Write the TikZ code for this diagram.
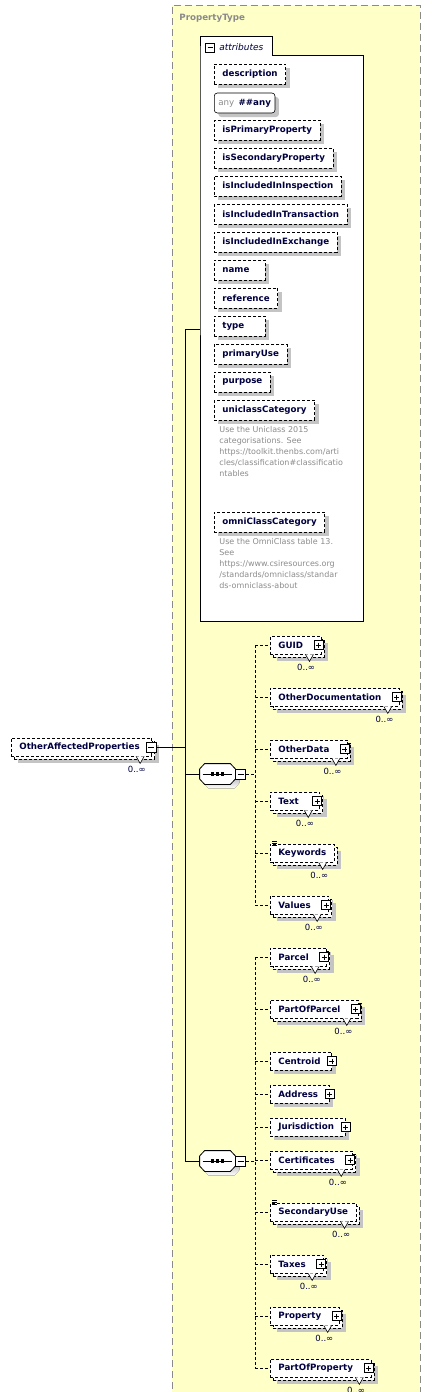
\documentclass[tikz,border=0pt]{standalone}
\usepackage{fontspec}
\setmainfont{DejaVu Sans}
\usetikzlibrary{positioning}
\definecolor{ink}{HTML}{000040}
\definecolor{shade}{HTML}{C4C4C4}
\definecolor{paper}{HTML}{FFFFC8}
\definecolor{framegray}{HTML}{8A8A8A}
\definecolor{notegray}{HTML}{8C8C8C}
\newcommand\gap[1][10pt]{\hbox to #1{}}

\begin{document}
\begin{tikzpicture}[x=1pt,y=-1pt,line width=0.8pt,node distance=8pt]
 \tikzstyle{attr}=[draw,densely dashed,fill=white,text=ink,font=\bfseries\fontsize{8.7}{10}\selectfont,
   inner xsep=8pt,inner ysep=0pt,minimum height=20pt,anchor=west,
   preaction={draw=none,fill=shade,transform canvas={shift={(4pt,-4pt)}}}]
 \tikzstyle{elem}=[attr,minimum height=18pt]
 \tikzstyle{multi}=[elem,
   preaction={draw=none,fill=shade,transform canvas={shift={(7pt,-7pt)}}},
   preaction={draw,densely dashed,fill=white,transform canvas={shift={(3pt,-3pt)}}}]
 \tikzstyle{anyattr}=[attr,solid,rounded corners=3pt,inner xsep=4pt,line width=0.6pt]
 \tikzstyle{pbox}=[draw,solid,fill=white,minimum size=9pt,inner sep=0pt,line width=0.6pt,
   path picture={\draw[solid,line width=0.6pt] ([xshift=2pt]path picture bounding box.west) -- ([xshift=-2pt]path picture bounding box.east)
     ([yshift=-2pt]path picture bounding box.north) -- ([yshift=2pt]path picture bounding box.south);}]
 \tikzstyle{mbox}=[draw,solid,fill=white,minimum size=10pt,inner sep=0pt,line width=0.6pt,
   path picture={\draw[solid,line width=0.6pt] ([xshift=2pt]path picture bounding box.west) -- ([xshift=-2pt]path picture bounding box.east);}]
 \tikzstyle{seqbox}=[minimum width=35pt,minimum height=20pt,inner sep=0pt]
 \tikzstyle{note}=[text=notegray,font=\fontsize{8}{11}\selectfont,align=left,inner sep=0pt,anchor=north west]
 \tikzstyle{mult}=[text=ink,font=\fontsize{8.5}{10}\selectfont,inner sep=0pt]

 \useasboundingbox (0,0) rectangle (431,1392);

 % complex type
 \fill[paper] (172,5) rectangle (420,1400);
 \draw[framegray,line width=1pt,dash pattern=on 7pt off 4pt] (172,1400) -- (172,5) -- (420,5) -- (420,1400);
 \node[text=framegray,font=\bfseries\fontsize{8.7}{10}\selectfont,anchor=west,inner sep=0pt] (ptype) at (179,18) {PropertyType};

 % attributes
 \draw[line width=1pt,fill=white] (200,55) -- (200,36) -- (272,36) -- (272,55) -- (363,55) -- (363,621) -- (200,621) -- cycle;
 \node[mbox,minimum size=9pt] (xatt) at (210,47.5) {};
 \node[anchor=west,inner sep=0pt,text=ink,font=\itshape\fontsize{9}{10}\selectfont] (attlbl) at (219,47) {attributes};

 \node[attr] (a1) at (214,74) {description};
 \node[anyattr] (a2) at (214,103) {\textcolor{notegray}{\mdseries any}\enspace\#\#any};
 \node[attr] (a3) at (214,130) {isPrimaryProperty};
 \node[attr] (a4) at (214,158) {isSecondaryProperty};
 \node[attr] (a5) at (214,186) {isIncludedInInspection};
 \node[attr] (a6) at (214,214) {isIncludedInTransaction};
 \node[attr] (a7) at (214,242) {isIncludedInExchange};
 \node[attr] (a8) at (214,270) {name\gap[8pt]};
 \node[attr] (a9) at (214,298) {reference};
 \node[attr] (a10) at (214,326) {type\gap[13pt]};
 \node[attr] (a11) at (214,354) {primaryUse};
 \node[attr] (a12) at (214,382) {purpose};
 \node[attr] (a13) at (214,410) {uniclassCategory};
 \node[note,below right=6pt and 5pt of a13.south west] (n13)
   {Use the Uniclass 2015\\categorisations. See\\https://toolkit.thenbs.com/arti\\cles/classification\#classificatio\\ntables};
 \node[attr] (a14) at (214,522) {omniClassCategory};
 \node[note,below right=6pt and 5pt of a14.south west] (n14)
   {Use the OmniClass table 13.\\See\\https://www.csiresources.org\\/standards/omniclass/standar\\ds-omniclass-about};

 % element and compositors
 \node[multi] (OAP) at (11,747) {OtherAffectedProperties\gap[4pt]};
 \node[mbox] (xOAP) at ([xshift=-1pt]OAP.east) {};
 \node[seqbox] (S1) at (217.5,774) {};
 \node[seqbox] (S2) at (217.5,1161) {};
 \foreach \s in {S1,S2}{
   \fill[shade] ([shift={(4,-1)}]\s.west) -- ([shift={(9,4)}]\s.north west) -- ([shift={(-1,4)}]\s.north east)
     -- ([shift={(4,-1)}]\s.east) -- ([shift={(4,9)}]\s.east) -- ([shift={(-1,4)}]\s.south east)
     -- ([shift={(9,4)}]\s.south west) -- ([shift={(4,9)}]\s.west) -- cycle;
   \draw[fill=white] ([yshift=5pt]\s.west) -- ([xshift=5pt]\s.north west) -- ([xshift=-5pt]\s.north east)
     -- ([yshift=5pt]\s.east) -- ([yshift=-5pt]\s.east) -- ([xshift=-5pt]\s.south east)
     -- ([xshift=5pt]\s.south west) -- ([yshift=-5pt]\s.west) -- cycle;
   \draw ([xshift=3pt]\s.west) -- ([xshift=-3pt]\s.east);
   \foreach \d in {-5,0,5} \fill ([xshift=\d pt]\s.center) +(-1.6,-1.6) rectangle +(1.6,1.6);
 }
 \node[mbox,right=0pt of S1] (xS1) {};
 \node[mbox,right=0pt of S2] (xS2) {};

 % children
 \node[multi] (G) at (270,645) {GUID\gap};
 \node[multi] (OD) at (270,697) {OtherDocumentation\gap};
 \node[multi] (ODa) at (270,749) {OtherData\gap};
 \node[multi] (T) at (270,801) {Text\gap[13pt]};
 \node[multi] (K) at (270,853) {Keywords};
 \node[multi] (V) at (270,905) {Values\gap};
 \node[multi] (P) at (270,957) {Parcel\gap};
 \node[multi] (PP) at (270,1009) {PartOfParcel\gap};
 \node[elem] (C) at (270,1061) {Centroid\gap[3pt]};
 \node[elem] (Ad) at (270,1094) {Address\gap[3pt]};
 \node[elem] (J) at (270,1127) {Jurisdiction\gap[3pt]};
 \node[multi] (Ce) at (270,1160) {Certificates\gap};
 \node[multi] (SU) at (270,1212) {SecondaryUse};
 \node[multi] (Tx) at (270,1264) {Taxes\gap};
 \node[multi] (Pr) at (270,1316) {Property\gap};
 \node[multi] (PoP) at (270,1368) {PartOfProperty\gap};

 % connectors
 \coordinate (top) at (185,329);
 \coordinate (bot) at (185,1161);
 \coordinate (attin) at (200,329);
 \draw (top) -- (bot);
 \draw (top) -- (attin);
 \draw (xOAP) -- (xOAP -| top);
 \draw (S1.west) -- (S1 -| top);
 \draw (S2.west) -- (S2 -| top);

 \coordinate (d1) at (255,774);
 \coordinate (d2) at (255,1161);
 \draw[densely dashed] (xS1) -- (d1);
 \draw[densely dashed] (xS2) -- (d2);
 \draw[densely dashed] (G.west -| d1) -- (V.west -| d1);
 \draw[densely dashed] (P.west -| d2) -- (PoP.west -| d2);
 \foreach \n in {G,OD,ODa,T,K,V} \draw[densely dashed] (\n.west -| d1) -- (\n);
 \foreach \n in {P,PP,C,Ad,J,Ce,SU,Tx,Pr,PoP} \draw[densely dashed] (\n.west -| d2) -- (\n);

 % expand boxes, occurrences
 \foreach \n in {G,OD,ODa,T,V,P,PP,Ce,Tx,Pr,PoP} \node[pbox] (p\n) at ([xshift=-3pt]\n.east) {};
 \foreach \n in {C,Ad,J} \node[pbox] (p\n) at (\n.east) {};
 \foreach \n in {K,SU} \foreach \k in {0,2,4} \draw[solid,line width=0.6pt] ([shift={(2,\k-2)}]\n.north west) -- ++(5,0);
 \foreach \n in {OAP,G,OD,ODa,T,K,V,P,PP,Ce,SU,Tx,Pr,PoP}{
   \draw[solid,fill=white,line width=0.6pt] ([xshift=-16pt]\n.south east) -- ++(4,7) -- ++(4,-7);
   \node[mult,below left=9pt and 6pt of \n.south east] (m\n) {0..∞};
 }
\end{tikzpicture}
\end{document}
